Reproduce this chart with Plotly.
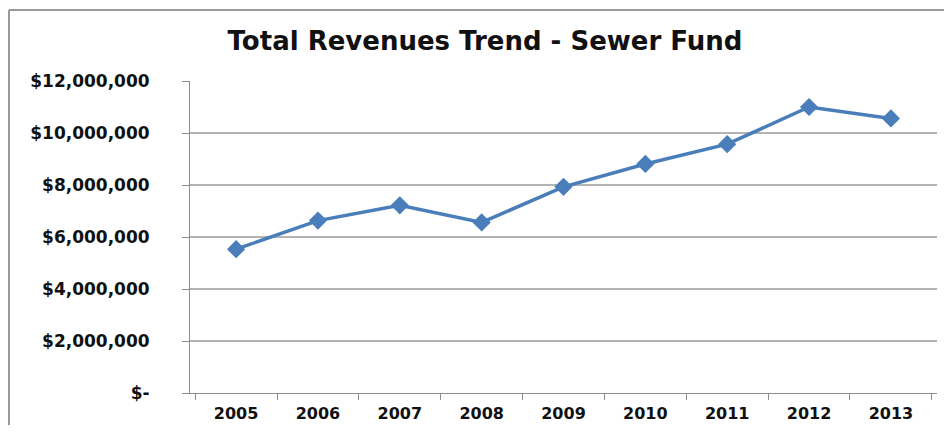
import plotly.graph_objects as go

# Sewer fund total revenues by year
YEARS = ["2005", "2006", "2007", "2008", "2009", "2010", "2011", "2012", "2013"]
REVENUES = [5530000, 6630000, 7220000, 6560000, 7930000, 8810000, 9570000, 11000000, 10560000]
Y_TICKS = [0, 2000000, 4000000, 6000000, 8000000, 10000000, 12000000]
Y_TICK_TEXT = ["$-", "$2,000,000", "$4,000,000", "$6,000,000", "$8,000,000",
               "$10,000,000", "$12,000,000"]

C_LINE = "#4a7ebb"
C_AXIS = "#8c8c8c"
C_GRID = "#b4b4b4"
C_TEXT = "#111111"

# page body adds an 8px margin on every side, so the figure is drawn
# 16px smaller and everything is shifted by 8px to keep the page at window size
OFF = 8
W, H = 952 - 2 * OFF, 433 - 2 * OFF
L, T = 190 - OFF, 81 - OFF
R = W - (937 - OFF)
B = H - (393 - OFF)

fig = go.Figure(go.Scatter(
    x=YEARS, y=REVENUES, mode="lines+markers",
    line={"color": C_LINE, "width": 3.5},
    marker={"symbol": "diamond", "size": 14, "color": C_LINE},
    hoverinfo="skip",
))

fig.update_layout(
    width=W, height=H,
    margin=dict(l=L, r=R, t=T, b=B),
    paper_bgcolor="white", plot_bgcolor="white",
    showlegend=False,
    font={"family": "DejaVu Sans", "color": C_TEXT},
    title={
        "text": "<b>Total Revenues Trend - Sewer Fund</b>",
        "font": {"family": "DejaVu Sans", "size": 26, "color": C_TEXT},
        "x": (485 - OFF) / W, "xanchor": "center",
        "y": 1 - (41 - OFF) / H, "yanchor": "middle",
    },
)

fig.update_xaxes(
    type="category", automargin=False,
    showline=True, linecolor=C_AXIS, linewidth=1,
    ticks="outside", ticklen=6, tickcolor=C_AXIS, tickson="boundaries",
    ticklabelstandoff=6,
    showgrid=False, zeroline=False,
    tickfont={"family": "DejaVu Sans", "size": 16, "color": C_TEXT, "weight": "bold"},
)
fig.update_yaxes(
    range=[0, 12000000], automargin=False,
    tickvals=Y_TICKS, ticktext=Y_TICK_TEXT,
    showline=True, linecolor=C_AXIS, linewidth=1,
    ticks="outside", ticklen=7, tickcolor=C_AXIS,
    ticklabelstandoff=29,
    showgrid=True, gridcolor=C_GRID, gridwidth=1.5,
    zeroline=False,
    tickfont={"family": "DejaVu Sans", "size": 17, "color": C_TEXT, "weight": "bold"},
)

# chart frame (left and top edges of the outer border)
pw, ph = W - L - R, H - T - B
fx0 = (9 - OFF - L) / pw
fy_top = 1 + (T - (10 - OFF)) / ph
fy_bot = -(B + 5) / ph
fig.add_shape(type="line", xref="paper", yref="paper", x0=fx0, x1=fx0, y0=fy_bot, y1=fy_top,
              line={"color": "#9a9a9a", "width": 2})
fig.add_shape(type="line", xref="paper", yref="paper", x0=fx0, x1=1 + (R + 5) / pw,
              y0=fy_top, y1=fy_top, line={"color": "#9a9a9a", "width": 2})

fig.write_html("out.html")
